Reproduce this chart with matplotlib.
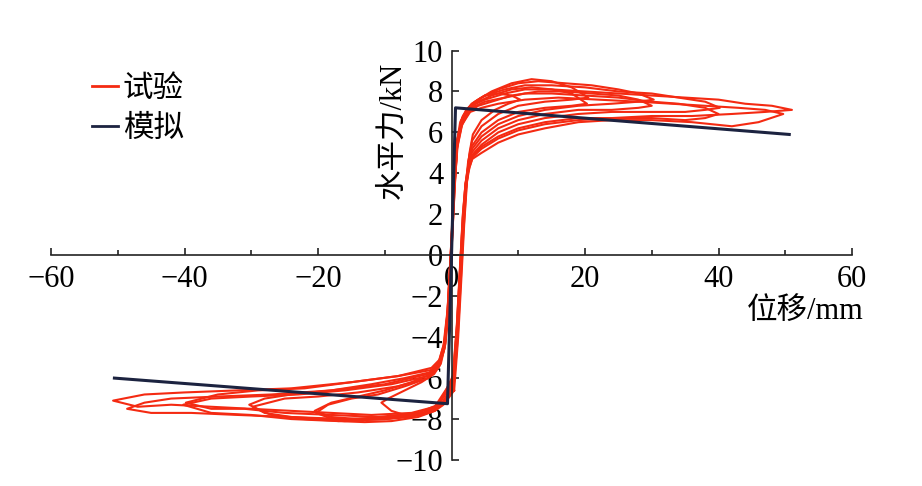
import matplotlib.pyplot as plt
from matplotlib.lines import Line2D
from matplotlib.ticker import MultipleLocator

plt.rcParams['font.family'] = ['Liberation Serif', 'Noto Sans CJK SC']

# 模拟 (simulation) skeleton curve
sim_x = [-50.5, -0.6, 0.6, 50.6]
sim_y = [-6.0, -7.25, 7.2, 5.9]

# 试验 (test) hysteresis loops, one list of (x, y) per cycle
pos_1 = [(0.4, -6.6), (1.0, -4.0), (1.5, -1.0), (1.9, 1.5), (2.3, 3.5), (2.7, 5.0), (3.2, 5.9), (4.5, 6.6),
         (6.5, 7.1), (8.5, 7.4), (10.3, 7.6), (9, 7.8), (7, 7.9), (5, 7.8), (3.5, 7.5), (2.2, 7.1), (1.3, 6.5),
         (0.7, 5.3), (0.3, 3.0)]
neg_1 = [(0.0, 0.5), (-0.4, -2.5), (-0.9, -4.3), (-1.6, -5.3), (-2.6, -5.8), (-4.5, -6.2), (-7, -6.6),
         (-9.5, -7.0), (-10.5, -7.2), (-9, -7.6), (-7, -7.8), (-4.5, -7.8), (-2.5, -7.6), (-1.2, -7.3)]

pos_2 = [(0.3, -6.5), (0.9, -4.2), (1.4, -1.2), (1.8, 1.2), (2.2, 3.2), (2.6, 4.7), (3.1, 5.6), (4.5, 6.3),
         (7, 6.9), (10, 7.3), (14, 7.5), (18, 7.6), (20.5, 7.7), (18, 8.2), (15, 8.5), (12, 8.6), (9, 8.4),
         (6, 8.0), (4, 7.6), (2.5, 7.2), (1.5, 6.6), (0.8, 5.5), (0.4, 3.3)]
neg_2 = [(0.0, 0.3), (-0.5, -2.8), (-1.0, -4.5), (-1.8, -5.4), (-3, -5.8), (-6, -6.2), (-10, -6.6),
         (-14, -6.9), (-18, -7.2), (-20.5, -7.6), (-18, -7.9), (-14, -8.0), (-10, -8.0), (-6, -7.9),
         (-3, -7.6), (-1.4, -7.3)]

pos_3 = [(0.2, -6.4), (0.8, -4.0), (1.3, -1.0), (1.7, 1.5), (2.1, 3.3), (2.5, 4.6), (3.0, 5.3), (4.5, 6.0),
         (7, 6.6), (10, 7.0), (14, 7.2), (18, 7.3), (20.3, 7.4), (18, 7.9), (15, 8.1), (12, 8.2), (9, 8.1),
         (6, 7.8), (4, 7.5), (2.5, 7.1), (1.4, 6.4), (0.7, 5.2), (0.3, 3.0)]
neg_3 = [(-0.1, 0.2), (-0.6, -2.9), (-1.1, -4.6), (-2, -5.5), (-3.5, -6.0), (-7, -6.4), (-11, -6.8),
         (-15, -7.0), (-18.5, -7.3), (-20.3, -7.7), (-17, -8.1), (-13, -8.15), (-9, -8.1), (-5, -7.9),
         (-2.5, -7.6), (-1.3, -7.2)]

pos_4 = [(0.3, -6.3), (0.9, -3.8), (1.4, -0.8), (1.8, 1.6), (2.2, 3.4), (2.6, 4.5), (3.1, 5.2), (4.5, 5.8),
         (7, 6.4), (10, 6.8), (14, 7.1), (19, 7.3), (24, 7.4), (28, 7.5), (30.3, 7.6), (28, 7.9), (25, 8.1),
         (21, 8.3), (17, 8.4), (13, 8.5), (10, 8.4), (7, 8.1), (4.5, 7.7), (2.8, 7.3), (1.6, 6.7), (0.9, 5.6),
         (0.5, 3.5)]
neg_4 = [(0.0, 0.2), (-0.5, -2.7), (-1.0, -4.4), (-1.8, -5.3), (-3, -5.7), (-7, -6.0), (-12, -6.3),
         (-18, -6.6), (-24, -6.8), (-28, -7.0), (-30.3, -7.3), (-28, -7.7), (-24, -7.9), (-19, -8.0),
         (-13, -8.0), (-8, -7.9), (-4, -7.7), (-1.6, -7.3)]

pos_5 = [(0.2, -6.2), (0.8, -3.6), (1.3, -0.6), (1.7, 1.8), (2.1, 3.5), (2.5, 4.4), (3.0, 5.0), (4.5, 5.6),
         (7, 6.2), (10, 6.6), (14, 6.9), (19, 7.1), (24, 7.1), (28, 7.2), (30, 7.3), (28, 7.6), (25, 7.8),
         (21, 7.9), (17, 8.0), (13, 8.0), (9, 7.8), (6, 7.5), (4, 7.3), (2.6, 7.0), (1.5, 6.3), (0.8, 5.2),
         (0.4, 3.2)]
neg_5 = [(-0.1, 0.1), (-0.6, -2.8), (-1.2, -4.6), (-2.1, -5.5), (-3.5, -6.0), (-8, -6.4), (-14, -6.7),
         (-20, -6.9), (-25, -7.0), (-29.8, -7.4), (-27, -7.8), (-22, -8.0), (-16, -8.1), (-10, -8.0),
         (-5, -7.8), (-2.2, -7.4)]

pos_6 = [(0.3, -6.2), (0.9, -3.7), (1.4, -0.7), (1.8, 1.7), (2.2, 3.4), (2.6, 4.3), (3.1, 4.9), (4.5, 5.4),
         (7, 6.0), (10, 6.4), (14, 6.7), (19, 6.9), (24, 7.0), (30, 7.0), (35, 7.0), (38, 7.1), (40.2, 7.2),
         (38, 7.5), (34, 7.7), (30, 7.9), (25, 8.0), (20, 8.2), (15, 8.3), (11, 8.3), (8, 8.1), (5, 7.8),
         (3, 7.4), (1.7, 6.8), (0.9, 5.7), (0.5, 3.6)]
neg_6 = [(0.0, 0.3), (-0.5, -2.6), (-1.0, -4.3), (-1.8, -5.2), (-3, -5.6), (-8, -5.9), (-15, -6.2),
         (-22, -6.5), (-29, -6.6), (-35, -6.8), (-39.8, -7.2), (-36, -7.5), (-31, -7.5), (-25, -7.7),
         (-18, -7.8), (-11, -7.9), (-5, -7.7), (-2, -7.3)]

pos_7 = [(0.2, -6.1), (0.8, -3.5), (1.3, -0.5), (1.7, 1.9), (2.1, 3.5), (2.5, 4.3), (3.0, 4.8), (4.5, 5.3),
         (7, 5.8), (10, 6.2), (14, 6.5), (19, 6.7), (24, 6.7), (30, 6.7), (35, 6.6), (38, 6.7), (40, 6.9),
         (38, 7.2), (34, 7.4), (30, 7.5), (25, 7.7), (20, 7.8), (15, 7.9), (11, 7.9), (8, 7.7), (5, 7.5),
         (3, 7.2), (1.7, 6.6), (0.9, 5.5), (0.4, 3.3)]
neg_7 = [(-0.1, 0.2), (-0.6, -2.8), (-1.1, -4.5), (-2.0, -5.4), (-3.5, -5.9), (-9, -6.3), (-16, -6.6),
         (-23, -6.8), (-30, -6.9), (-36, -7.0), (-40.2, -7.3), (-36, -7.7), (-30, -7.8), (-24, -8.0),
         (-17, -8.1), (-10, -8.0), (-5, -7.8), (-2.2, -7.4)]

pos_8 = [(0.3, -6.0), (0.9, -3.6), (1.4, -0.6), (1.8, 1.8), (2.2, 3.4), (2.7, 4.3), (3.2, 4.8), (4.5, 5.2),
         (7, 5.7), (10, 6.1), (14, 6.4), (19, 6.6), (24, 6.7), (30, 6.8), (36, 6.8), (42, 6.9), (47, 7.0),
         (51, 7.1), (48, 7.3), (44, 7.4), (40, 7.6), (35, 7.7), (30, 7.8), (25, 7.9), (20, 8.0), (15, 8.1),
         (11, 8.1), (8, 7.9), (5, 7.6), (3, 7.3), (1.7, 6.7), (0.9, 5.6), (0.5, 3.4)]
neg_8 = [(0.0, 0.2), (-0.5, -2.6), (-1.0, -4.2), (-1.8, -5.1), (-3, -5.5), (-8, -5.9), (-15, -6.2),
         (-24, -6.5), (-32, -6.6), (-40, -6.7), (-46, -6.8), (-50.7, -7.1), (-47, -7.4), (-42, -7.3),
         (-36, -7.4), (-30, -7.5), (-24, -7.6), (-18, -7.7), (-12, -7.8), (-6, -7.7), (-2.5, -7.4)]

pos_9 = [(0.2, -5.9), (0.8, -3.4), (1.3, -0.4), (1.7, 2.0), (2.1, 3.5), (2.6, 4.2), (3.1, 4.7), (4.5, 5.0),
         (7, 5.5), (10, 5.9), (14, 6.2), (19, 6.5), (24, 6.6), (30, 6.6), (36, 6.5), (42, 6.3), (46, 6.5),
         (49.7, 6.9), (47, 7.1), (43, 7.2), (38, 7.3), (33, 7.4), (28, 7.5), (22, 7.6), (16, 7.7), (11, 7.6),
         (7, 7.4), (4.5, 7.2), (2.8, 7.0), (1.6, 6.4), (0.9, 5.3), (0.4, 3.2)]
neg_9 = [(-0.1, 0.1), (-0.6, -2.7), (-1.2, -4.4), (-2.0, -5.3), (-3.5, -5.8), (-10, -6.3), (-18, -6.6),
         (-27, -6.8), (-35, -6.9), (-42, -7.0), (-46, -7.2), (-48.6, -7.5), (-45, -7.7), (-39, -7.7),
         (-32, -7.8), (-24, -7.9), (-16, -8.0), (-9, -7.9), (-4, -7.7), (-2, -7.4)]

cycles = [(pos_1, neg_1), (pos_2, neg_2), (pos_3, neg_3), (pos_4, neg_4), (pos_5, neg_5),
          (pos_6, neg_6), (pos_7, neg_7), (pos_8, neg_8), (pos_9, neg_9)]

x_ticks = [-60, -40, -20, 0, 20, 40, 60]
y_ticks = [-10, -8, -6, -4, -2, 0, 2, 4, 6, 8, 10]

red = '#f42a12'
navy = '#1c2340'

fig = plt.figure(figsize=(9.22, 4.86), dpi=100)
ax = fig.add_axes([51 / 922, 1 - 460 / 486, 801 / 922, 409.5 / 486])

for pos, neg in cycles:
    pts = pos + neg + [pos[0]]
    ax.plot([p[0] for p in pts], [p[1] for p in pts], color=red, lw=1.5, zorder=2, clip_on=False,
            solid_joinstyle='round')

ax.plot(sim_x, sim_y, color=navy, lw=2.2, zorder=3, clip_on=False)

ax.set_xlim(-60, 60)
ax.set_ylim(-10, 10)
for s in ['top', 'right']:
    ax.spines[s].set_visible(False)
ax.spines['left'].set_position(('data', 0))
ax.spines['bottom'].set_position(('data', 0))
for s in ['left', 'bottom']:
    ax.spines[s].set_linewidth(1.2)
    ax.spines[s].set_color('#222222')

ax.set_xticks(x_ticks)
ax.xaxis.set_minor_locator(MultipleLocator(10))
ax.set_yticks(y_ticks)
ax.tick_params(axis='both', which='both', direction='in', width=1.2, color='#222222', labelsize=22)
ax.tick_params(axis='both', which='major', length=5)
ax.tick_params(axis='both', which='minor', length=3.5)
ax.tick_params(axis='x', pad=7)
ax.tick_params(axis='y', pad=6)
for lab in ax.get_yticklabels():
    lab.set_bbox(dict(facecolor='white', edgecolor='none', pad=0.5))

ax.text(-8.7, 6.1, '水平力/kN', rotation=90, ha='center', va='center', fontsize=22)
ax.text(53, -2.75, '位移/mm', ha='center', va='center', fontsize=22)

handles = [Line2D([], [], color=red, lw=2), Line2D([], [], color=navy, lw=2)]
fig.legend(handles, ['试验', '模拟'], loc='upper left', bbox_to_anchor=(92 / 922, 1 - 73 / 486),
           frameon=False, prop={'family': 'Noto Sans CJK SC', 'size': 22, 'weight': 'medium'},
           handlelength=0.85, handletextpad=0.15, labelspacing=0.28, borderpad=0, borderaxespad=0)

fig.savefig('out.png', dpi=100)
